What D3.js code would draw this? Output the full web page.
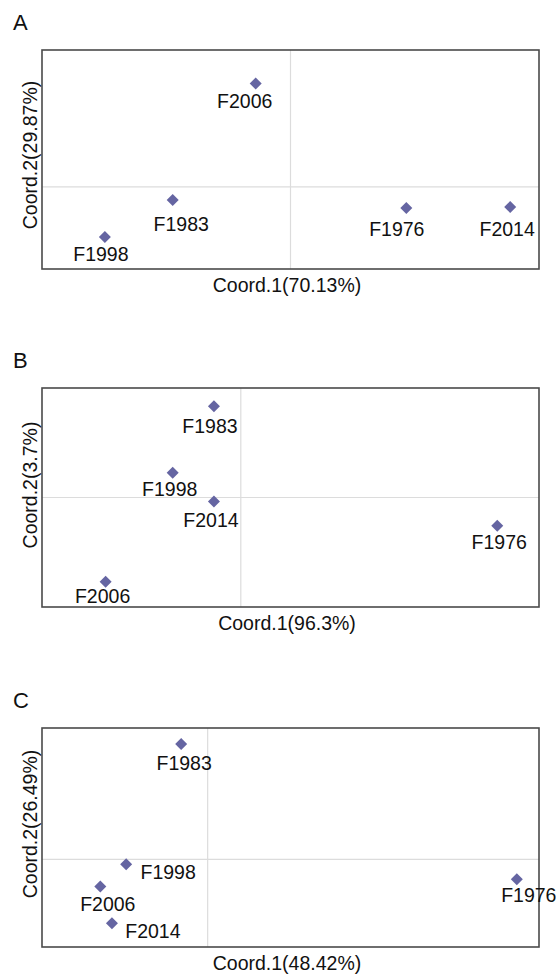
<!DOCTYPE html>
<html lang="en">
<head>
    <meta charset="UTF-8">
    <title>PCoA plots</title>
    <script src="https://d3js.org/d3.v7.min.js"></script>
    <style>
        body { margin: 0; background: #fff; }
        svg text { font-family: "Liberation Sans", Arial, sans-serif; fill: #111; }
    </style>
</head>
<body>
    <div id="chart"></div>

    <script>
        // samples (same order in every panel)
        const samples = ["F1976", "F1983", "F1998", "F2006", "F2014"];

        // panel A
        const coordA1 = [0.466, -0.474, -0.747, -0.140, 0.884];
        const coordA2 = [-0.154, -0.095, -0.367, 0.756, -0.147];
        // panel B
        const coordB1 = [0.516, -0.054, -0.137, -0.272, -0.054];
        const coordB2 = [-0.257, 0.834, 0.227, -0.769, -0.036];
        // panel C
        const coordC1 = [0.933, -0.080, -0.246, -0.324, -0.289];
        const coordC2 = [-0.136, 0.791, -0.034, -0.186, -0.438];

        const panelLetters = ["A", "B", "C"];
        const xTitles = ["Coord.1(70.13%)", "Coord.1(96.3%)", "Coord.1(48.42%)"];
        const yTitles = ["Coord.2(29.87%)", "Coord.2(3.7%)", "Coord.2(26.49%)"];

        // layout only
        const panels = [
            {
                top: 50, x: coordA1, y: coordA2,
                xDomain: [-1, 1], yDomain: [-0.6, 1.0], yTitleY: 155,
                // label offsets from the point: [dx to text centre, dy to baseline]
                off: [[-9.5, 28], [8.5, 31], [-4, 24], [-11, 25], [-3, 29]]
            },
            {
                top: 388, x: coordB1, y: coordB2,
                xDomain: [-0.4, 0.6], yDomain: [-1, 1], yTitleY: 485,
                off: [[2, 23], [-4, 27], [-3, 23], [-3, 21], [-3, 26]]
            },
            {
                top: 728, x: coordC1, y: coordC2,
                xDomain: [-0.5, 1.0], yDomain: [-0.6, 0.9], yTitleY: 824,
                off: [[12, 23], [3, 26], [42, 14.5], [7.5, 24.5], [41, 14.5]]
            }
        ];

        const W = 556, H = 974;
        const left = 42, right = 539, boxH = 219;

        const svg = d3.select("#chart")
                      .append("svg")
                      .attr("width", W)
                      .attr("height", H);

        panels.forEach((p, i) => {
            const x = d3.scaleLinear().domain(p.xDomain).range([left, right]);
            const y = d3.scaleLinear().domain(p.yDomain).range([p.top + boxH, p.top]);
            const g = svg.append("g");

            // zero lines
            g.append("line")
             .attr("x1", x(0)).attr("x2", x(0))
             .attr("y1", p.top).attr("y2", p.top + boxH)
             .attr("stroke", "#dcdcdc").attr("stroke-width", 1.2);
            g.append("line")
             .attr("x1", left).attr("x2", right)
             .attr("y1", y(0)).attr("y2", y(0))
             .attr("stroke", "#dcdcdc").attr("stroke-width", 1.2);

            // frame
            g.append("rect")
             .attr("x", left).attr("y", p.top)
             .attr("width", right - left).attr("height", boxH)
             .attr("fill", "none")
             .attr("stroke", "#4a4a4a")
             .attr("stroke-width", 1.6);

            const diamond = d3.symbol().type(d3.symbolSquare).size(72);

            g.selectAll(".pt")
             .data(samples)
             .enter()
             .append("path")
             .attr("class", "pt")
             .attr("d", diamond)
             .attr("transform", (d, j) => `translate(${x(p.x[j])},${y(p.y[j])}) rotate(45)`)
             .attr("fill", "#6565a2");

            g.selectAll(".lbl")
             .data(samples)
             .enter()
             .append("text")
             .attr("class", "lbl")
             .attr("x", (d, j) => x(p.x[j]) + p.off[j][0])
             .attr("y", (d, j) => y(p.y[j]) + p.off[j][1])
             .attr("text-anchor", "middle")
             .style("font-size", "19.5px")
             .text(d => d);

            // panel letter
            g.append("text")
             .attr("x", 13)
             .attr("y", p.top - 20)
             .style("font-size", "22px")
             .text(panelLetters[i]);

            // axis titles
            g.append("text")
             .attr("x", 287)
             .attr("y", p.top + boxH + 23)
             .attr("text-anchor", "middle")
             .style("font-size", "19.5px")
             .text(xTitles[i]);

            g.append("text")
             .attr("transform", `translate(37, ${p.yTitleY}) rotate(-90)`)
             .attr("text-anchor", "middle")
             .style("font-size", "19.5px")
             .text(yTitles[i]);
        });
    </script>
</body>
</html>
